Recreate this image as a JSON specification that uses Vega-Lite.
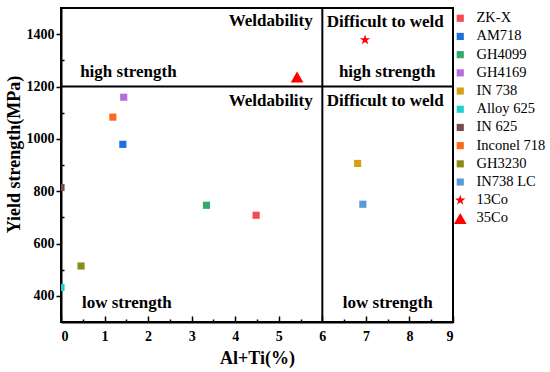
{
  "$schema": "https://vega.github.io/schema/vega-lite/v6.json",
  "width": 392,
  "height": 314,
  "autosize": "none",
  "padding": {"left": 61, "top": 8, "right": 97, "bottom": 50},
  "background": "white",
  "config": {
    "view": {"stroke": "black", "strokeWidth": 2},
    "font": "Liberation Serif",
    "axis": {"grid": false, "domainColor": "black", "domainWidth": 2, "tickColor": "black", "tickWidth": 1.5, "labelFont": "Liberation Serif", "labelFontWeight": "bold", "labelFontSize": 14, "labelColor": "black", "titleFont": "Liberation Serif", "titleFontWeight": "bold", "titleFontSize": 18, "titleColor": "black"}
  },
  "resolve": {"axis": {"x": "independent", "y": "independent"}},
  "datasets": {
    "pts": [
      {"alloy": "ZK-X", "x": 4.48, "y": 708},
      {"alloy": "AM718", "x": 1.42, "y": 979},
      {"alloy": "GH4099", "x": 3.34, "y": 746},
      {"alloy": "GH4169", "x": 1.44, "y": 1159},
      {"alloy": "IN 738", "x": 6.81, "y": 906},
      {"alloy": "Alloy 625", "x": 0, "y": 432},
      {"alloy": "IN 625", "x": 0, "y": 814},
      {"alloy": "Inconel 718", "x": 1.19, "y": 1083},
      {"alloy": "GH3230", "x": 0.46, "y": 514},
      {"alloy": "IN738 LC", "x": 6.93, "y": 750},
      {"alloy": "13Co", "x": 6.98, "y": 1378},
      {"alloy": "35Co", "x": 5.42, "y": 1236}
    ],
    "vline": [{"x": 6}],
    "hline": [{"y": 1200}],
    "labelsRight": [
      {"label": "Weldability", "x": 5.78, "y": 1452},
      {"label": "Weldability", "x": 5.78, "y": 1145}
    ],
    "labelsLeft": [
      {"label": "Difficult to weld", "x": 6.1, "y": 1445},
      {"label": "Difficult to weld", "x": 6.1, "y": 1146},
      {"label": "high strength", "x": 0.44, "y": 1254},
      {"label": "high strength", "x": 6.38, "y": 1254},
      {"label": "low strength", "x": 0.48, "y": 373},
      {"label": "low strength", "x": 6.47, "y": 373}
    ]
  },
  "layer": [
    {
      "data": {"name": "vline"},
      "mark": {"type": "rule", "color": "black", "strokeWidth": 2},
      "encoding": {
        "x": {"field": "x", "type": "quantitative", "scale": {"domain": [0, 9], "nice": false, "zero": false},
          "axis": {"orient": "bottom", "values": [0.5, 1.5, 2.5, 3.5, 4.5, 5.5, 6.5, 7.5, 8.5], "labels": false, "domain": false, "tickSize": -3, "title": null}}
      }
    },
    {
      "data": {"name": "hline"},
      "mark": {"type": "rule", "color": "black", "strokeWidth": 2},
      "encoding": {
        "y": {"field": "y", "type": "quantitative", "scale": {"domain": [300, 1500], "nice": false, "zero": false},
          "axis": {"orient": "left", "values": [500, 700, 900, 1100, 1300], "labels": false, "domain": false, "tickSize": -3, "title": null}}
      }
    },
    {
      "data": {"name": "pts"},
      "mark": {"type": "point", "filled": true, "opacity": 1, "strokeWidth": 0, "clip": true, "size": 121},
      "encoding": {
        "x": {
          "field": "x", "type": "quantitative", "title": "Al+Ti(%)",
          "scale": {"domain": [0, 9], "nice": false, "zero": false},
          "axis": {"orient": "bottom", "values": [0, 1, 2, 3, 4, 5, 6, 7, 8, 9], "tickSize": -6, "labelPadding": 13, "titlePadding": 6}
        },
        "y": {
          "field": "y", "type": "quantitative", "title": "Yield strength(MPa)",
          "scale": {"domain": [300, 1500], "nice": false, "zero": false},
          "axis": {"orient": "left", "values": [400, 600, 800, 1000, 1200, 1400], "format": "d", "tickSize": 5, "labelPadding": 2, "titlePadding": 3, "titleY": 146}
        },
        "color": {
          "field": "alloy", "type": "nominal",
          "scale": {
            "domain": ["ZK-X", "AM718", "GH4099", "GH4169", "IN 738", "Alloy 625", "IN 625", "Inconel 718", "GH3230", "IN738 LC", "13Co", "35Co"],
            "range": ["#f44a50", "#1f6fe0", "#35a96a", "#b46ee0", "#d4a017", "#22cfcf", "#7b4a4a", "#fb6a1c", "#8c8c1c", "#5b9bd5", "#ff0000", "#ff0000"]
          },
          "legend": {"title": null, "orient": "right", "offset": -3, "padding": 3, "labelFont": "Liberation Serif", "labelFontSize": 14.5, "labelColor": "black", "rowPadding": 3.2, "labelOffset": 9, "symbolSize": 121, "symbolStrokeWidth": 0, "symbolOpacity": 1}
        },
        "shape": {
          "field": "alloy", "type": "nominal",
          "scale": {
            "domain": ["ZK-X", "AM718", "GH4099", "GH4169", "IN 738", "Alloy 625", "IN 625", "Inconel 718", "GH3230", "IN738 LC", "13Co", "35Co"],
            "range": [
              "M-0.65,-0.65H0.65V0.65H-0.65Z", "M-0.65,-0.65H0.65V0.65H-0.65Z", "M-0.65,-0.65H0.65V0.65H-0.65Z", "M-0.65,-0.65H0.65V0.65H-0.65Z", "M-0.65,-0.65H0.65V0.65H-0.65Z",
              "M-0.65,-0.65H0.65V0.65H-0.65Z", "M-0.65,-0.65H0.65V0.65H-0.65Z", "M-0.65,-0.65H0.65V0.65H-0.65Z", "M-0.65,-0.65H0.65V0.65H-0.65Z", "M-0.65,-0.65H0.65V0.65H-0.65Z",
              "M0,-1L0.2245,-0.309L0.951,-0.309L0.363,0.118L0.588,0.809L0,0.382L-0.588,0.809L-0.363,0.118L-0.951,-0.309L-0.2245,-0.309Z",
              "M0,-1L1.15,1L-1.15,1Z"
            ]
          }
        }
      }
    },
    {
      "data": {"name": "labelsRight"},
      "mark": {"type": "text", "align": "right", "baseline": "middle", "font": "Liberation Serif", "fontWeight": "bold", "fontSize": 17, "color": "black"},
      "encoding": {
        "x": {"field": "x", "type": "quantitative", "axis": null},
        "y": {"field": "y", "type": "quantitative", "axis": null},
        "text": {"field": "label", "type": "nominal"}
      }
    },
    {
      "data": {"name": "labelsLeft"},
      "mark": {"type": "text", "align": "left", "baseline": "middle", "font": "Liberation Serif", "fontWeight": "bold", "fontSize": 17, "color": "black"},
      "encoding": {
        "x": {"field": "x", "type": "quantitative", "axis": null},
        "y": {"field": "y", "type": "quantitative", "axis": null},
        "text": {"field": "label", "type": "nominal"}
      }
    }
  ]
}
